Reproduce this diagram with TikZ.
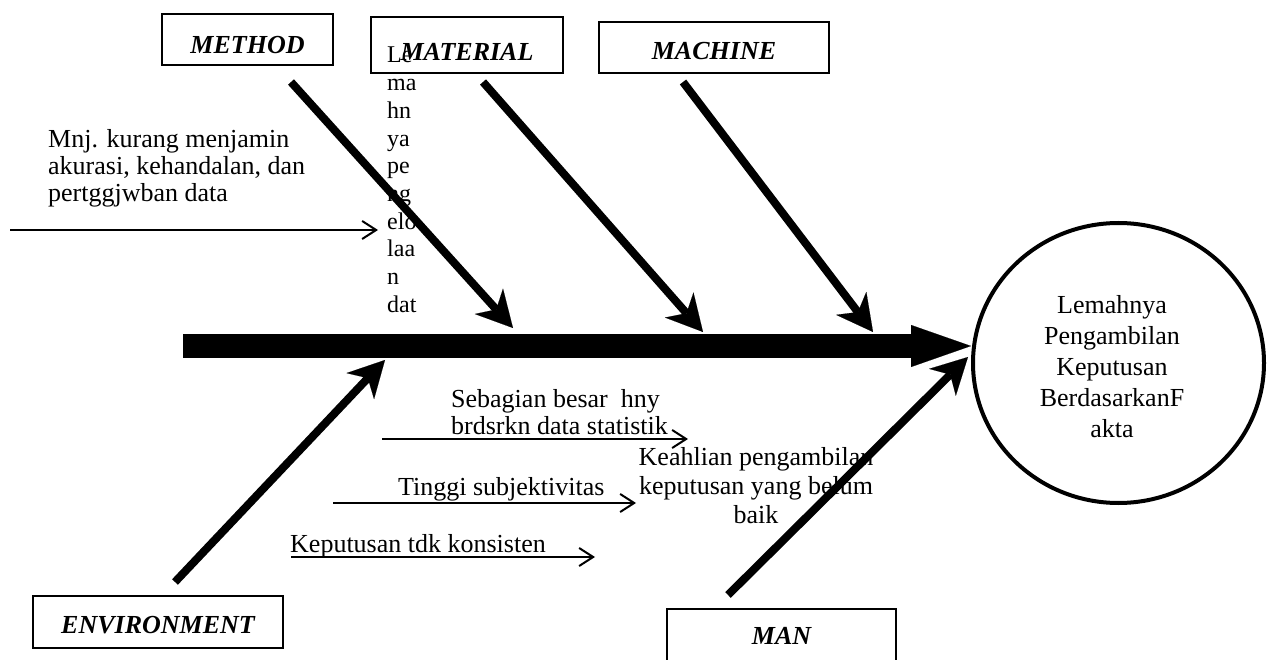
\documentclass[tikz,border=0pt]{standalone}
\usepackage{fontspec}
\setmainfont{Liberation Serif}
\usetikzlibrary{arrows.meta,shapes.geometric}

\begin{document}
\begin{tikzpicture}[x=1pt,y=-1pt,
  box/.style={draw, line width=2pt, inner sep=0pt, text depth=0pt,
    font=\fontsize{26}{30}\selectfont\bfseries\itshape},
  causetext/.style={inner sep=0pt, font=\fontsize{26}{#1}\selectfont},
  causetext/.default=27,
  columntext/.style={inner sep=0pt, font=\fontsize{24}{27.7}\selectfont},
  spine/.style={line width=24pt,
    -{Triangle[length=60pt,width=42pt,line width=0.1pt]}},
  bone/.style={line width=8pt,
    -{Stealth[length=36pt,width=38pt,inset=11pt,line width=0.1pt]}},
  sub/.style={line width=2pt,
    -{Straight Barb[length=14pt,width=18pt]}},
]
\clip (0,0) rectangle (1270,660);

% category boxes
\node[box, minimum width=171pt, minimum height=51pt, text height=29pt] (method) at (247.5,39.5) {METHOD};
\node[box, minimum width=192pt, minimum height=56pt, text height=32pt] (material) at (467,45) {MATERIAL};
\node[box, minimum width=230pt, minimum height=51pt, text height=25pt] (machine) at (714,47.5) {MACHINE};
\node[box, minimum width=250pt, minimum height=52pt, text height=22pt] (environment) at (158,622) {ENVIRONMENT};
\node[box, minimum width=229pt, minimum height=56pt, text height=14pt] (man) at (781.5,637) {MAN};

% effect (head of the fish)
\node[draw, ellipse, line width=4pt, minimum width=291pt, minimum height=280pt, inner sep=0pt] (effect) at (1118.5,363) {};
\node[causetext=31, align=center, anchor=north] (effecttext) at (1112,295)
  {Lemahnya\\Pengambilan\\Keputusan\\BerdasarkanF\\akta};

% sub-causes
\node[causetext, align=left, anchor=north west] (causeA) at (48,129)
  {Mnj. kurang menjamin\\akurasi, kehandalan, dan\\pertggjwban data};
\node[columntext, align=left, anchor=north west] (causeB) at (387,47)
  {Le\\ma\\hn\\ya\\pe\\ng\\elo\\laa\\n\\dat};
\node[causetext, align=left, anchor=north west] (causeC) at (451,389)
  {Sebagian besar~ hny\\brdsrkn data statistik};
\node[causetext=29, align=center, anchor=north] (causeD) at (756,447)
  {Keahlian pengambilan\\keputusan yang belum\\baik};
\node[causetext, anchor=base west] (causeE) at (398,495) {Tinggi subjektivitas};
\node[causetext, anchor=base west] (causeF) at (290,552) {Keputusan tdk konsisten};

% thin sub-cause arrows
\coordinate (subAs) at (10,230);   \coordinate (subAe) at (378,230);
\coordinate (subCs) at (382,439);  \coordinate (subCe) at (688,439);
\coordinate (subEs) at (333,503);  \coordinate (subEe) at (636,503);
\coordinate (subFs) at (291,557);  \coordinate (subFe) at (595,557);
\draw[sub] (subAs) -- (subAe);
\draw[sub] (subCs) -- (subCe);
\draw[sub] (subEs) -- (subEe);
\draw[sub] (subFs) -- (subFe);

% backbone
\coordinate (spinetail) at (183,346);
\draw[spine] (spinetail) -- (spinetail -| effect.west);

% main bones
\coordinate (methodtail) at (291,82);     \coordinate (methodtip) at (513,328);
\coordinate (materialtail) at (483,82);   \coordinate (materialtip) at (703,332);
\coordinate (machinetail) at (683,82);    \coordinate (machinetip) at (873,332);
\coordinate (envtail) at (175,582);       \coordinate (envtip) at (385,360);
\coordinate (mantail) at (728,595);       \coordinate (mantip) at (968,357);
\draw[bone] (methodtail) -- (methodtip);
\draw[bone] (materialtail) -- (materialtip);
\draw[bone] (machinetail) -- (machinetip);
\draw[bone] (envtail) -- (envtip);
\draw[bone] (mantail) -- (mantip);
\end{tikzpicture}
\end{document}
